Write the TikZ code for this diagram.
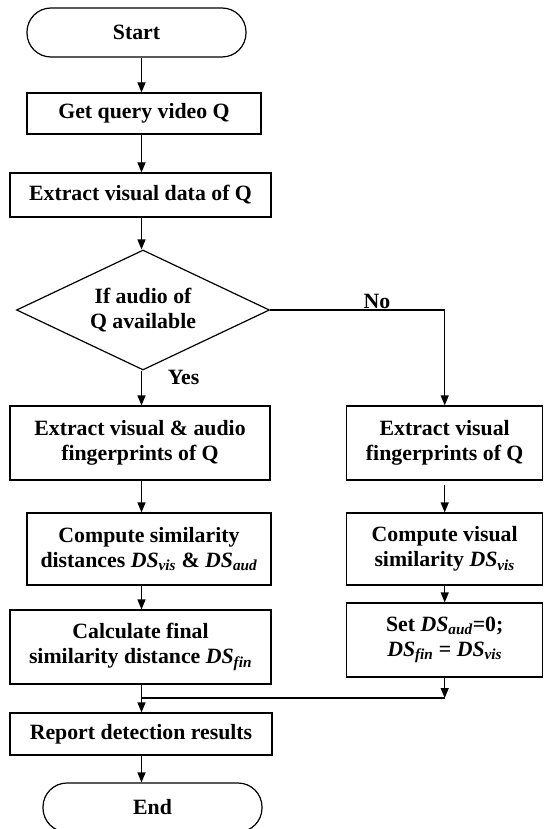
\documentclass[tikz,border=0pt]{standalone}
\usepackage{fontspec}
\setmainfont{Liberation Serif}
\usetikzlibrary{shapes.geometric,arrows.meta}

\newcommand{\dsub}[1]{\textit{DS}\textsubscript{\textit{#1}}}

\begin{document}
\begin{tikzpicture}[x=1pt,y=-1pt]
  % Base settings
  \tikzset{
    box/.style={draw, line width=1.2pt, inner sep=0pt, align=center,
      font=\fontsize{21.8}{25}\selectfont\bfseries},
    term/.style={box, rounded corners=24pt},
    decide/.style={box, diamond, aspect=2, minimum width=253pt, minimum height=120pt},
    arr/.style={line width=1.2pt, -{Triangle[length=10pt,width=8pt]}},
    link/.style={line width=1.2pt},
    lbl/.style={font=\fontsize{21.8}{25}\selectfont\bfseries, inner sep=0pt}
  }
  \useasboundingbox (0,0) rectangle (544,829);

  % --- Columns ---
  \coordinate (col) at (141.5,0);
  \coordinate (colr) at (444.7,0);
  \coordinate (mrg) at (141.5,698);

  % --- Left column ---
  \node[term, minimum width=219pt, minimum height=49pt] (start) at (136.5,32.5) {Start};
  \node[box, minimum width=234pt, minimum height=41pt] (get) at (144,113.5) {Get query video Q};
  \node[box, minimum width=261pt, minimum height=44pt] (vdata) at (140.5,195) {Extract visual data of Q};
  \node[decide] (dec) at (143,310) {If audio of\\Q available};
  \node[box, minimum width=260pt, minimum height=74pt] (lfp) at (140,443) {Extract visual \& audio\\fingerprints of Q};
  \node[box, minimum width=244pt, minimum height=72pt] (ldist) at (149,549) {Compute similarity\\distances \dsub{vis} \& \dsub{aud}};
  \node[box, minimum width=261pt, minimum height=74pt] (lfin) at (140.5,647) {Calculate final\\similarity distance \dsub{fin}};
  \node[box, minimum width=262pt, minimum height=42pt] (report) at (141,734) {Report detection results};
  \node[term, minimum width=219pt, minimum height=49pt] (end) at (152.5,807.5) {End};

  % --- Right column ---
  \node[box, minimum width=196pt, minimum height=74pt] (rfp) at (444.7,443) {Extract visual\\fingerprints of Q};
  \node[box, minimum width=196pt, minimum height=72pt] (rdist) at (444.7,549) {Compute visual\\similarity \dsub{vis}};
  \node[box, minimum width=196pt, minimum height=74pt] (rset) at (444.7,640) {Set \dsub{aud}=0;\\\dsub{fin} = \dsub{vis}};

  % --- Labels ---
  \node[lbl] (no) at (377,301.5) {No};
  \node[lbl] (yes) at (183.5,377) {Yes};

  % --- Connectors ---
  \draw[arr] (start.south -| col) -- (get.north -| col);
  \draw[arr] (get.south -| col) -- (vdata.north -| col);
  \draw[arr] (vdata.south -| col) -- (dec.north -| col);
  \draw[arr] (dec.south -| col) -- (lfp.north -| col);
  \draw[arr] (dec.east) -| (rfp.north -| colr);
  \draw[arr] (lfp.south -| col) -- (ldist.north -| col);
  \draw[arr] (ldist.south -| col) -- (lfin.north -| col);
  \draw[arr] (lfin.south -| col) -- (report.north -| col);
  \draw[arr] (report.south -| col) -- (end.north -| col);
  \draw[arr] ([yshift=-4pt]rfp.south -| colr) -- (rdist.north -| colr);
  \draw[arr] (rdist.south -| colr) -- (rset.north -| colr);
  \draw[arr] (rset.south -| colr) -- (mrg -| colr);
  \draw[link] (mrg -| colr) -- (mrg);
\end{tikzpicture}
\end{document}
